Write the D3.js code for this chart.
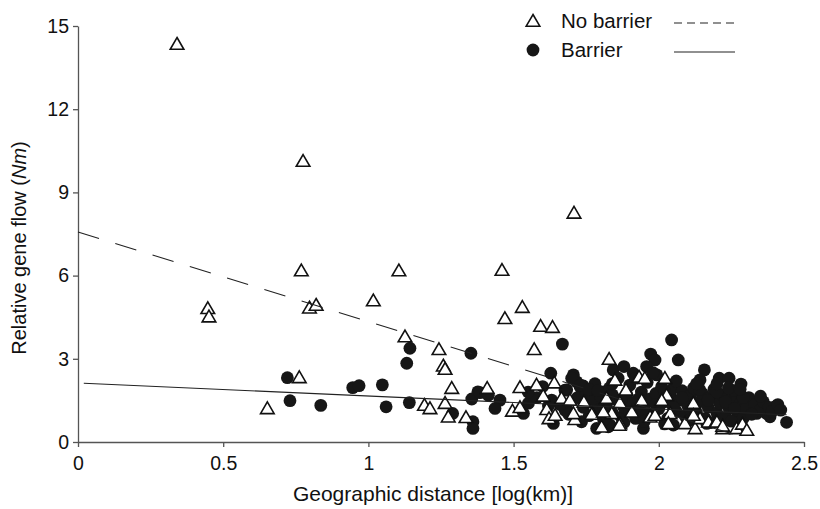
<!DOCTYPE html>
<html><head><meta charset="utf-8">
<script src="https://cdn.jsdelivr.net/npm/d3@7"></script>
<style>
html,body{margin:0;padding:0;background:#fff;}
svg text{font-family:"Liberation Sans",Arial,Helvetica,sans-serif;fill:#111;}
</style></head>
<body>
<svg id="chart" width="820" height="509"></svg>
<script>
// ---- data ----
const xTicks = [0, 0.5, 1, 1.5, 2, 2.5];
const xTickLabels = ["0", "0.5", "1", "1.5", "2", "2.5"];
const yTicks = [0, 3, 6, 9, 12, 15];
const yTickLabels = ["0", "3", "6", "9", "12", "15"];
const seriesNames = ["No barrier", "Barrier"];

// No barrier (open triangles): [log distance, Nm]
const noBarrier = [
 [0.341,14.35],[0.775,10.13],[1.708,8.26],[1.46,6.2],
 [0.447,4.82],[0.451,4.52],[0.769,6.18],[0.797,4.84],[0.82,4.94],[1.017,5.10],[1.105,6.18],[1.126,3.80],
 [1.243,3.34],[1.258,2.75],[1.264,2.63],[1.287,1.94],[0.762,2.33],[0.652,1.21],[1.193,1.33],[1.212,1.21],
 [1.264,1.40],[1.275,0.91],[1.336,0.89],
 [1.470,4.46],[1.530,4.86],[1.593,4.18],[1.634,4.14],[1.571,3.34],[1.409,1.94],[1.522,1.97],[1.579,2.06],
 [1.640,2.14],[1.602,1.66],[1.665,1.58],[1.694,1.51],[1.742,1.45],[1.496,1.12],[1.522,1.25],[1.614,1.18],
 [1.622,0.85],[1.711,0.82],[1.772,1.03],[1.643,0.97],[1.706,1.03],
 [1.829,2.99],[1.932,2.35],[1.952,2.30],[2.021,2.30],[1.849,2.24],[1.887,1.88],[2.027,1.69],[2.01,1.51],
 [1.941,1.51],[1.82,1.58],[1.866,1.42],[2.119,1.40],[1.769,1.01],[1.838,1.03],[1.907,1.09],[1.809,1.09],
 [1.803,0.55],[1.866,0.67],[1.97,0.91],[1.987,0.97],[2.039,1.03],[2.033,0.67],[2.09,0.67],[2.125,0.49],
 [2.142,0.85],[2.171,0.73],[2.197,0.73],[2.22,0.49],[2.268,0.49],[2.288,0.65],[2.303,0.43],[2.119,0.97],
 [1.864,0.61],[2.2,0.73],[2.22,0.58]
];

// Barrier (filled circles): [log distance, Nm]
const barrier = [
 [0.721,2.32],[0.730,1.49],[0.836,1.32],[0.946,1.96],[0.968,2.03],[1.048,2.06],[1.061,1.27],[1.143,3.38],
 [1.132,2.84],[1.141,1.42],[1.353,3.20],[1.356,1.55],[1.377,1.81],[1.29,1.03],[1.36,0.73],[1.36,0.49],
 [1.668,3.53],[1.628,2.48],[1.706,2.42],[1.717,2.17],[1.384,1.78],[1.413,1.69],[1.453,1.51],[1.436,1.21],
 [1.551,1.40],[1.534,1.03],[1.637,0.67],[1.631,1.51],[1.677,1.87],[1.729,1.99],[1.677,1.15],[1.734,0.73],
 [1.780,1.51],[1.786,0.49],
 [2.044,3.68],[2.067,2.96],[1.972,3.17],[1.987,2.96],[1.958,2.72],[1.993,2.42],[2.157,2.60],[2.142,2.24],
 [2.208,2.30],[2.242,2.30],[2.283,2.09],[1.843,2.60],[1.880,2.72],[1.70,2.30],[1.74,2.02],[1.775,1.76],
 [1.803,1.81],[2.32,1.45],[2.348,1.51],[2.40,1.27],[2.44,0.71],[2.383,0.91],[2.337,1.03],[1.826,0.55],
 [1.947,0.49],[2.05,0.61],[2.165,0.67],[2.268,0.79],[1.912,2.48],[1.683,1.88],[1.683,1.21],[1.832,0.61],
 [2.371,1.03],
 [1.72,1.60],[1.74,1.25],[1.75,1.75],[1.76,0.95],[1.77,1.45],[1.78,2.10],[1.79,1.15],[1.80,1.65],
 [1.81,0.80],[1.82,1.35],[1.83,1.95],[1.84,1.05],[1.85,1.55],[1.86,2.30],[1.87,0.90],[1.88,1.25],
 [1.89,1.70],[1.90,2.05],[1.91,1.40],[1.92,0.85],[1.93,1.10],[1.94,1.80],[1.95,1.30],[1.96,2.15],
 [1.97,1.55],[1.98,0.95],[1.99,1.75],[2.00,1.20],[2.01,2.00],[2.02,1.45],[2.03,0.85],[2.04,1.65],
 [2.05,1.95],[2.06,1.10],[2.07,1.50],[2.08,1.85],[2.09,0.95],[2.10,1.30],[2.11,1.70],[2.12,1.95],
 [2.13,1.05],[2.14,1.45],[2.15,1.75],[2.16,0.85],[2.17,1.25],[2.18,1.60],[2.19,1.90],[2.20,1.05],
 [2.21,1.40],[2.22,1.70],[2.23,0.90],[2.24,1.25],[2.25,1.55],[2.26,1.85],[2.27,1.10],[2.28,1.40],
 [2.29,0.85],[2.30,1.20],[2.31,1.60],[2.33,1.35],[2.35,1.15],[2.36,1.45],[2.38,1.25],[2.39,1.10],
 [2.41,1.35],[2.42,1.15],
 [1.73,2.05],[1.76,1.90],[1.79,1.85],[1.81,1.20],[1.84,1.70],[1.87,1.50],[1.90,1.10],[1.93,1.55],
 [1.96,1.05],[1.99,1.35],[2.02,1.80],[2.05,1.25],[2.08,1.60],[2.11,1.15],[2.14,1.90],[2.17,1.50],
 [2.20,1.80],[2.23,1.45],[2.26,1.20],[2.29,1.60],[2.32,1.00],[2.35,1.65],[1.88,0.70],[1.95,0.75],
 [2.02,0.65],[2.10,0.75],[2.18,0.70],[2.25,0.75],[1.84,2.10],[1.92,2.30],[1.98,2.50],[2.06,2.20],
 [2.13,2.10],[2.20,2.10],[2.24,1.95],[2.28,1.90],[1.66,1.35],[1.69,1.00],[1.62,1.30],[1.58,1.60],
 [1.55,1.80],[1.60,2.00]
];

// Fitted regression lines (endpoints)
const noBarrierFit = [[0, 7.57], [2.31, 0.11]];
const barrierFit = [[0.02, 2.12], [2.44, 0.98]];

// ---- chart ----
const svg = d3.select("#chart");
const x = d3.scaleLinear().domain([0, 2.5]).range([78, 804]);
const y = d3.scaleLinear().domain([0, 15]).range([442, 26]);

const triPath = "M0,-6.5L6.8,5.2L-6.8,5.2Z";

// axes
const xAxis = svg.append("g").attr("transform", `translate(0,${y(0)})`)
  .call(d3.axisBottom(x).tickValues(xTicks).tickSize(5).tickSizeOuter(0)
    .tickFormat((d, i) => xTickLabels[i]));
const yAxis = svg.append("g").attr("transform", `translate(${x(0)},0)`)
  .call(d3.axisLeft(y).tickValues(yTicks).tickSize(5).tickSizeOuter(0)
    .tickFormat((d, i) => yTickLabels[i]));
[xAxis, yAxis].forEach(g => {
  g.select(".domain").attr("stroke", "#555").attr("stroke-width", 1.3);
  g.selectAll(".tick line").attr("stroke", "#555").attr("stroke-width", 1.3);
  g.selectAll(".tick text").attr("font-size", 19.5).attr("fill", "#111")
   .attr("font-family", "'Liberation Sans', Arial, sans-serif");
});
xAxis.selectAll(".tick text").attr("dy", "1.0em").attr("y", 8);
yAxis.selectAll(".tick text").attr("x", -9);

// points: circles first, triangles on top
svg.append("g").selectAll("circle").data(barrier).join("circle")
  .attr("cx", d => x(d[0])).attr("cy", d => y(d[1])).attr("r", 6.4)
  .attr("fill", "#161616");
svg.append("g").selectAll("path").data(noBarrier).join("path")
  .attr("d", triPath)
  .attr("transform", d => `translate(${x(d[0])},${y(d[1])})`)
  .attr("fill", "#fff").attr("stroke", "#111").attr("stroke-width", 1.6);

// regression lines
const line = d3.line().x(d => x(d[0])).y(d => y(d[1]));
svg.append("path").datum(noBarrierFit).attr("d", line)
  .attr("fill", "none").attr("stroke", "#222").attr("stroke-width", 1.1)
  .attr("stroke-dasharray", "22,17");
svg.append("path").datum(barrierFit).attr("d", line)
  .attr("fill", "none").attr("stroke", "#222").attr("stroke-width", 1.1);

// axis titles
svg.append("text").attr("x", 433).attr("y", 501).attr("text-anchor", "middle")
  .attr("font-size", 21).text("Geographic distance [log(km)]");
const yt = svg.append("text").attr("transform", "translate(26,248) rotate(-90)")
  .attr("text-anchor", "middle").attr("font-size", 20);
yt.append("tspan").text("Relative gene flow (");
yt.append("tspan").attr("font-style", "italic").text("Nm");
yt.append("tspan").text(")");

// legend
const legend = svg.append("g");
const legRows = [
  {name: seriesNames[0], y: 21, dash: "8,5"},
  {name: seriesNames[1], y: 50, dash: null}
];
legRows.forEach((r, i) => {
  if (i === 0) {
    legend.append("path").attr("d", triPath).attr("transform", `translate(533,${r.y})`)
      .attr("fill", "#fff").attr("stroke", "#111").attr("stroke-width", 1.6);
  } else {
    legend.append("circle").attr("cx", 533).attr("cy", r.y).attr("r", 6.4).attr("fill", "#161616");
  }
  legend.append("text").attr("x", 561).attr("y", r.y + 7).attr("font-size", 20.5).text(r.name);
  const l = legend.append("line").attr("x1", 674).attr("x2", 735).attr("y1", r.y + 2).attr("y2", r.y + 2)
    .attr("stroke", "#222").attr("stroke-width", 1.2);
  if (r.dash) l.attr("stroke-dasharray", r.dash);
});
</script>
</body></html>
